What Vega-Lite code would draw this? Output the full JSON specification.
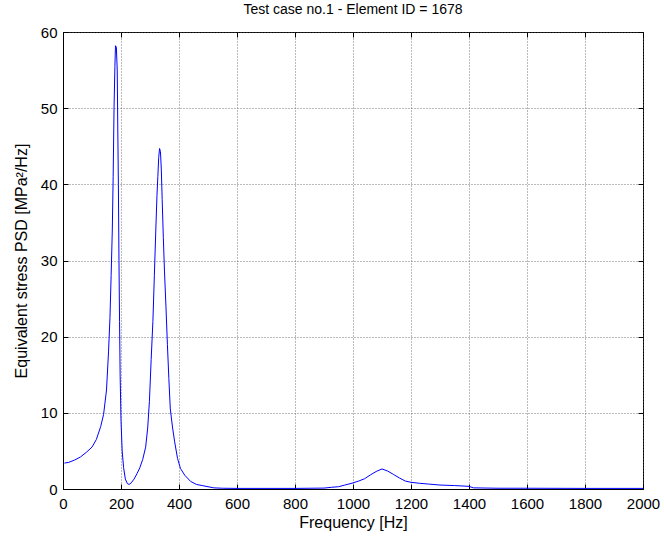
{
  "$schema": "https://vega.github.io/schema/vega-lite/v6.json",
  "autosize": "none",
  "width": 580,
  "height": 457,
  "padding": {"left": 63, "top": 32, "right": 21, "bottom": 51},
  "background": "white",
  "config": {
    "font": "Liberation Sans",
    "view": {"stroke": "black", "strokeWidth": 1},
    "axis": {
      "labelFont": "Liberation Sans",
      "titleFont": "Liberation Sans",
      "labelFontSize": 15,
      "titleFontSize": 16,
      "titleFontWeight": "normal",
      "labelColor": "black",
      "titleColor": "black",
      "domainColor": "black",
      "tickColor": "black",
      "gridColor": "#555555",
      "gridDash": [1, 2],
      "gridOpacity": 0.8,
      "tickSize": -5,
      "format": "d"
    }
  },
  "title": {
    "text": "Test case no.1 - Element ID = 1678",
    "font": "Liberation Sans",
    "fontSize": 14,
    "fontWeight": "normal",
    "color": "black",
    "offset": 8
  },
  "data": {
    "values": [
      {"f": 5, "psd": 3.4}, {"f": 20, "psd": 3.5}, {"f": 40, "psd": 3.8}, {"f": 60, "psd": 4.2},
      {"f": 80, "psd": 4.8}, {"f": 100, "psd": 5.5}, {"f": 115, "psd": 6.5}, {"f": 130, "psd": 8.2},
      {"f": 140, "psd": 9.8}, {"f": 150, "psd": 13}, {"f": 157, "psd": 18}, {"f": 162, "psd": 22.5},
      {"f": 166, "psd": 28}, {"f": 170, "psd": 34}, {"f": 173, "psd": 41}, {"f": 176, "psd": 50},
      {"f": 179, "psd": 55.5}, {"f": 181, "psd": 58.2}, {"f": 184, "psd": 58}, {"f": 187, "psd": 55},
      {"f": 189, "psd": 47}, {"f": 191, "psd": 40}, {"f": 193, "psd": 30}, {"f": 195, "psd": 22},
      {"f": 197, "psd": 15}, {"f": 200, "psd": 9}, {"f": 204, "psd": 5}, {"f": 209, "psd": 2.8},
      {"f": 215, "psd": 1.3}, {"f": 222, "psd": 0.7}, {"f": 228, "psd": 0.6}, {"f": 235, "psd": 0.8},
      {"f": 245, "psd": 1.3}, {"f": 255, "psd": 2.0}, {"f": 265, "psd": 2.8}, {"f": 275, "psd": 3.9},
      {"f": 285, "psd": 5.5}, {"f": 292, "psd": 8.0}, {"f": 298, "psd": 11.5}, {"f": 304, "psd": 17},
      {"f": 310, "psd": 22}, {"f": 315, "psd": 28}, {"f": 320, "psd": 34}, {"f": 324, "psd": 38.5},
      {"f": 327, "psd": 41}, {"f": 330, "psd": 43.5}, {"f": 333, "psd": 44.7}, {"f": 336, "psd": 44.3},
      {"f": 339, "psd": 42}, {"f": 342, "psd": 38}, {"f": 346, "psd": 33}, {"f": 350, "psd": 28.5},
      {"f": 355, "psd": 24}, {"f": 360, "psd": 19}, {"f": 365, "psd": 14.5}, {"f": 370, "psd": 10.5},
      {"f": 378, "psd": 8.0}, {"f": 385, "psd": 6.2}, {"f": 395, "psd": 4}, {"f": 405, "psd": 2.7},
      {"f": 420, "psd": 1.8}, {"f": 440, "psd": 1.0}, {"f": 460, "psd": 0.6}, {"f": 480, "psd": 0.45},
      {"f": 500, "psd": 0.3}, {"f": 520, "psd": 0.15}, {"f": 550, "psd": 0.1}, {"f": 600, "psd": 0.08},
      {"f": 700, "psd": 0.08}, {"f": 800, "psd": 0.08}, {"f": 900, "psd": 0.12}, {"f": 925, "psd": 0.22},
      {"f": 950, "psd": 0.3}, {"f": 970, "psd": 0.5}, {"f": 1000, "psd": 0.8}, {"f": 1020, "psd": 1.05},
      {"f": 1040, "psd": 1.35}, {"f": 1060, "psd": 1.85}, {"f": 1080, "psd": 2.3}, {"f": 1100, "psd": 2.63},
      {"f": 1120, "psd": 2.35}, {"f": 1140, "psd": 1.9}, {"f": 1160, "psd": 1.45}, {"f": 1180, "psd": 1.05},
      {"f": 1200, "psd": 0.88}, {"f": 1230, "psd": 0.75}, {"f": 1260, "psd": 0.65}, {"f": 1300, "psd": 0.52},
      {"f": 1350, "psd": 0.45}, {"f": 1400, "psd": 0.35}, {"f": 1415, "psd": 0.15}, {"f": 1500, "psd": 0.1},
      {"f": 1600, "psd": 0.1}, {"f": 1800, "psd": 0.08}, {"f": 2000, "psd": 0.08}
    ]
  },
  "layer": [
    {
      "mark": {"type": "line", "color": "#0000ff", "strokeWidth": 1, "clip": true},
      "encoding": {
        "x": {
          "field": "f", "type": "quantitative",
          "scale": {"domain": [0, 2000], "nice": false, "zero": false},
          "axis": {"values": [0,200,400,600,800,1000,1200,1400,1600,1800,2000], "grid": true, "title": "Frequency [Hz]", "labelPadding": 12, "titlePadding": 3, "labelFlush": false}
        },
        "y": {
          "field": "psd", "type": "quantitative",
          "scale": {"domain": [0, 60], "nice": false},
          "axis": {"values": [0,10,20,30,40,50,60], "grid": true, "title": "Equivalent stress PSD [MPa²/Hz]", "labelPadding": 11, "titlePadding": 11, "labelFlush": false}
        }
      }
    },
    {
      "mark": {"type": "line", "opacity": 0},
      "encoding": {
        "x": {
          "field": "f", "type": "quantitative",
          "axis": {"orient": "top", "values": [0,200,400,600,800,1000,1200,1400,1600,1800,2000], "labels": false, "title": null, "grid": false, "domain": false}
        },
        "y": {
          "field": "psd", "type": "quantitative",
          "axis": {"orient": "right", "values": [0,10,20,30,40,50,60], "labels": false, "title": null, "grid": false, "domain": false}
        }
      }
    }
  ],
  "resolve": {"axis": {"x": "independent", "y": "independent"}}
}
